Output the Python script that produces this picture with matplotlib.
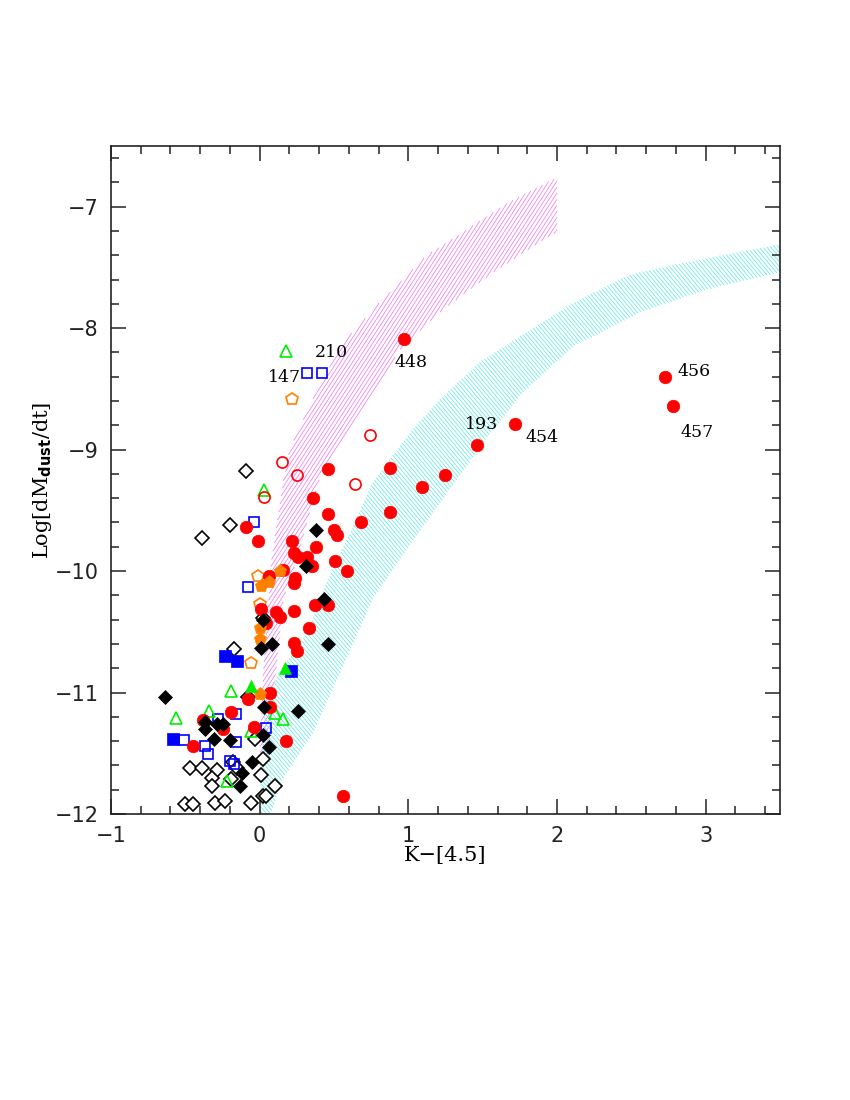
import numpy as np
import matplotlib
matplotlib.use("Agg")
import matplotlib.pyplot as plt
from matplotlib.path import Path
from matplotlib.ticker import MultipleLocator

# ---- model bands (upper edge, lower edge) ----
mag_up_x = [0.00, 0.02, 0.08, 0.16, 0.20, 0.385, 0.56, 0.79, 1.125, 1.68, 2.00]
mag_up_y = [-11.6, -10.9, -9.9, -9.25, -9.0, -8.51, -8.12, -7.81, -7.40, -6.96, -6.76]
mag_lo_x = [2.00, 1.885, 1.55, 1.23, 0.94, 0.67, 0.45, 0.40, 0.25, 0.16, 0.09, 0.05]
mag_lo_y = [-7.21, -7.29, -7.56, -7.85, -8.18, -8.73, -9.11, -9.25, -9.9, -10.23, -11.06, -11.6]

cy_up_x = [0.00, 0.03, 0.12, 0.32, 0.45, 0.61, 0.76, 1.01, 1.21, 1.48, 1.75, 2.11, 2.49, 2.78, 3.50]
cy_up_y = [-12.0, -11.2, -10.85, -10.51, -10.09, -9.68, -9.27, -8.86, -8.59, -8.28, -8.07, -7.79, -7.56, -7.48, -7.31]
cy_lo_x = [3.50, 3.01, 2.56, 2.11, 1.77, 1.53, 1.23, 0.99, 0.76, 0.61, 0.36, 0.14, 0.08]
cy_lo_y = [-7.54, -7.68, -7.87, -8.15, -8.53, -8.9, -9.41, -9.82, -10.23, -10.65, -11.33, -11.74, -12.0]

# ---- sources ----
red_filled_x = [0.97, 1.72, 1.46, 2.73, 2.78, 0.46, 0.88, 1.09, 1.25, 0.36, 0.46, 0.88,
                -0.09, 0.68, 0.50, 0.52, -0.01, 0.22, 0.38, 0.23, 0.26, 0.32, 0.35, 0.51,
                0.59, 0.16, 0.06, 0.24, 0.23, 0.37, 0.46, 0.01, 0.23, 0.11, 0.14, 0.04,
                0.33, 0.23, 0.25, 0.07, -0.08, 0.07, -0.19, -0.38, -0.25, -0.04, 0.18,
                -0.45, 0.56]
red_filled_y = [-8.09, -8.79, -8.96, -8.40, -8.64, -9.16, -9.15, -9.31, -9.21, -9.40, -9.53, -9.51,
                -9.64, -9.60, -9.66, -9.70, -9.75, -9.75, -9.80, -9.85, -9.88, -9.88, -9.96, -9.92,
                -10.00, -9.99, -10.04, -10.06, -10.10, -10.28, -10.28, -10.31, -10.33, -10.34, -10.38, -10.43,
                -10.47, -10.59, -10.66, -11.00, -11.05, -11.12, -11.16, -11.23, -11.30, -11.28, -11.40,
                -11.44, -11.85]

red_open_x = [0.74, 0.15, 0.25, 0.64, 0.03]
red_open_y = [-8.88, -9.10, -9.21, -9.28, -9.39]

black_filled_x = [0.38, 0.31, 0.43, 0.08, 0.01, 0.46, -0.64, 0.03, 0.26, -0.37, -0.29, -0.25,
                  -0.37, 0.02, -0.31, -0.20, 0.06, -0.05, -0.12, -0.13, 0.02]
black_filled_y = [-9.66, -9.96, -10.23, -10.60, -10.63, -10.60, -11.04, -11.12, -11.15, -11.24, -11.26, -11.26,
                  -11.30, -11.35, -11.38, -11.39, -11.45, -11.57, -11.66, -11.77, -10.40]

black_open_x = [-0.09, -0.20, -0.39, 0.02, -0.17, -0.08, -0.03, -0.18, 0.02, -0.47, -0.39, -0.29,
                -0.15, -0.32, 0.01, -0.19, -0.32, 0.10, -0.50, -0.45, -0.30, -0.23, -0.06, 0.02, 0.04]
black_open_y = [-9.18, -9.62, -9.73, -10.39, -10.64, -11.04, -11.38, -11.57, -11.55, -11.62, -11.62, -11.64,
                -11.62, -11.70, -11.68, -11.71, -11.77, -11.77, -11.92, -11.92, -11.91, -11.89, -11.91, -11.85, -11.85]

blue_open_x = [0.32, 0.42, -0.04, -0.08, -0.16, -0.28, 0.04, -0.51, -0.16, -0.37, -0.35, -0.20, -0.17]
blue_open_y = [-8.37, -8.37, -9.60, -10.13, -11.18, -11.22, -11.29, -11.39, -11.41, -11.44, -11.51, -11.56, -11.59]

blue_filled_x = [-0.23, -0.15, 0.21, -0.58]
blue_filled_y = [-10.70, -10.74, -10.82, -11.38]

green_open_x = [0.18, 0.03, -0.19, 0.10, 0.16, -0.56, -0.34, -0.06, -0.22]
green_open_y = [-8.19, -9.33, -10.99, -11.17, -11.22, -11.21, -11.15, -11.32, -11.73]

green_filled_x = [0.17, -0.06]
green_filled_y = [-10.80, -10.95]

orange_open_x = [0.22, -0.01, 0.00, -0.06]
orange_open_y = [-8.58, -10.04, -10.27, -10.76]

orange_filled_x = [0.14, 0.06, 0.01, 0.00, 0.00, 0.00]
orange_filled_y = [-10.00, -10.09, -10.12, -10.47, -10.56, -11.01]

label_text = ["448", "210", "147", "193", "454", "456", "457"]
label_x = [0.91, 0.37, 0.055, 1.38, 1.785, 2.81, 2.83]
label_y = [-8.28, -8.20, -8.41, -8.79, -8.90, -8.36, -8.86]

RED = "#ff0000"
BLUE = "#0000ff"
GREEN = "#00ee00"
ORANGE = "#ff8000"

XLIM = (-1, 3.5)
YLIM = (-12, -6.5)


def hatch_band(ax, xs_up, ys_up, xs_lo, ys_lo, color, angle, spacing_px):
    # polygon of the band in axes-fraction space (axes box ~square in pixels)
    vx = (np.array(list(xs_up) + list(xs_lo)) - XLIM[0]) / (XLIM[1] - XLIM[0])
    vy = (np.array(list(ys_up) + list(ys_lo)) - YLIM[0]) / (YLIM[1] - YLIM[0])
    band = Path(np.column_stack([vx, vy]))
    d = spacing_px / ax.get_window_extent().height
    th = np.deg2rad(angle)
    u = np.array([np.cos(th), np.sin(th)])
    n = np.array([-np.sin(th), np.cos(th)])
    t = np.linspace(-0.8, 0.8, 1600)
    xs, ys = [], []
    for c in np.arange(-0.8, 0.8, d):
        pts = 0.5 + c * n + np.outer(t, u)
        inside = band.contains_points(pts)
        if not inside.any():
            continue
        px = np.where(inside, pts[:, 0], np.nan)
        py = np.where(inside, pts[:, 1], np.nan)
        xs.extend(list(px) + [np.nan])
        ys.extend(list(py) + [np.nan])
    xs = XLIM[0] + np.array(xs) * (XLIM[1] - XLIM[0])
    ys = YLIM[0] + np.array(ys) * (YLIM[1] - YLIM[0])
    ax.plot(xs, ys, color=color, lw=0.5, zorder=1)


fig = plt.figure(figsize=(8.5, 11), dpi=100)
ax = fig.add_axes([0.1306, 0.26, 0.787, 0.6073])
ax.set_xlim(*XLIM)
ax.set_ylim(*YLIM)

hatch_band(ax, mag_up_x, mag_up_y, mag_lo_x, mag_lo_y, "#f070f0", 57, 3.3)
hatch_band(ax, cy_up_x, cy_up_y, cy_lo_x, cy_lo_y, "#55e6e6", -50, 3.0)

mew = 1.2
ax.plot(black_open_x, black_open_y, "D", ms=7, mfc="white", mec="black", mew=mew, ls="none", zorder=3)
ax.plot(blue_open_x, blue_open_y, "s", ms=7.5, mfc="none", mec=BLUE, mew=mew, ls="none", zorder=3)
ax.plot(green_open_x, green_open_y, "^", ms=8.5, mfc="none", mec=GREEN, mew=mew, ls="none", zorder=3)
ax.plot(orange_open_x, orange_open_y, "p", ms=9, mfc="none", mec=ORANGE, mew=mew, ls="none", zorder=3)
ax.plot(red_open_x, red_open_y, "o", ms=8, mfc="none", mec=RED, mew=mew, ls="none", zorder=3)
ax.plot(red_filled_x, red_filled_y, "o", ms=9, mfc=RED, mec=RED, mew=0.5, ls="none", zorder=4)
ax.plot(orange_filled_x, orange_filled_y, "p", ms=9.5, mfc=ORANGE, mec=ORANGE, mew=0.5, ls="none", zorder=4)
ax.plot(black_filled_x, black_filled_y, "D", ms=7, mfc="black", mec="black", mew=0.5, ls="none", zorder=5)
ax.plot(blue_filled_x, blue_filled_y, "s", ms=8, mfc=BLUE, mec=BLUE, mew=0.5, ls="none", zorder=5)
ax.plot(green_filled_x, green_filled_y, "^", ms=8.5, mfc=GREEN, mec=GREEN, mew=0.5, ls="none", zorder=5)

for t, x, y in zip(label_text, label_x, label_y):
    ax.text(x, y, t, ha="left", va="center", fontsize=12.5, family="DejaVu Serif", zorder=6)

ax.set_xlim(*XLIM)
ax.set_ylim(*YLIM)
ax.xaxis.set_major_locator(MultipleLocator(1))
ax.xaxis.set_minor_locator(MultipleLocator(0.2))
ax.yaxis.set_major_locator(MultipleLocator(1))
ax.yaxis.set_minor_locator(MultipleLocator(0.2))
ax.tick_params(which="both", direction="in", top=True, right=True, width=1.1, colors="#222222")
ax.tick_params(which="major", length=11, labelsize=15, pad=9)
ax.tick_params(which="minor", length=5.5)
for lab in ax.get_xticklabels() + ax.get_yticklabels():
    lab.set_family("DejaVu Sans")
for s in ax.spines.values():
    s.set_linewidth(1.2)
    s.set_color("#222222")
    s.set_zorder(7)

ax.set_xlabel("K\u2212[4.5]", fontsize=15, family="DejaVu Serif")
ax.set_ylabel(r"Log[dM$_{\mathbf{dust}}$/dt]", fontsize=15, family="DejaVu Serif")
ax.xaxis.set_label_coords(0.5, -0.062)
ax.yaxis.set_label_coords(-0.103, 0.5)
ax.xaxis.label.set_va("center")
ax.yaxis.label.set_va("center")

fig.savefig("out.png", dpi=100)
